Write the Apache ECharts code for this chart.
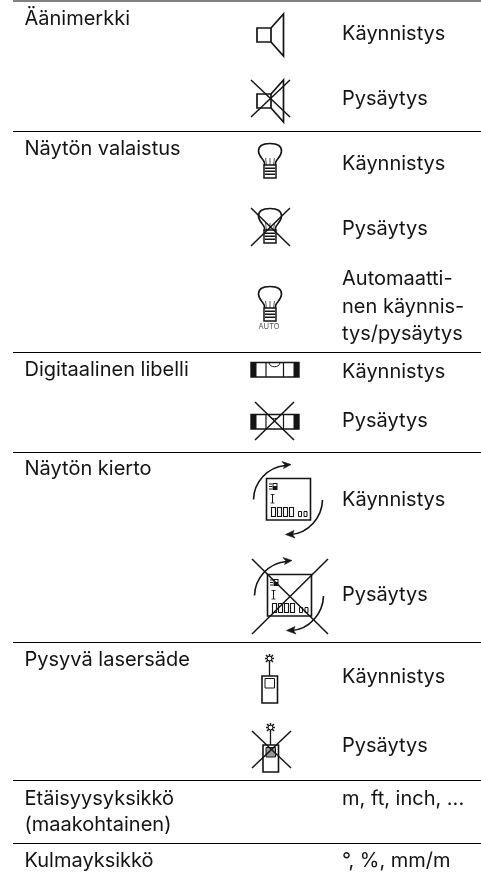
<!DOCTYPE html>
<html>
<head>
<meta charset="utf-8">
<style>html,body{margin:0;padding:0;background:#fff}#main{width:481px;height:872px}</style>
<script src="https://cdn.jsdelivr.net/npm/echarts@6/dist/echarts.min.js"></script>
</head>
<body>
<div id="main"></div>
<script>
var featureLabels = ['Äänimerkki', 'Näytön valaistus', 'Digitaalinen libelli', 'Näytön kierto', 'Pysyvä lasersäde', 'Etäisyysyksikkö', '(maakohtainen)', 'Kulmayksikkö'];
var actionLabels = ['Käynnistys', 'Pysäytys', 'Käynnistys', 'Pysäytys', 'Automaatti-', 'nen käynnis-', 'tys/pysäytys', 'Käynnistys', 'Pysäytys', 'Käynnistys', 'Pysäytys', 'Käynnistys', 'Pysäytys', 'm, ft, inch, ...', '°, %, mm/m'];

// layout, all in page pixels
var featureBase = [25, 155, 376, 475, 666, 805, 831, 867];
var actionBase = [40, 105, 170, 235, 285, 313, 340, 378, 427, 506, 601, 683, 752, 805, 867];
var ruleY = [131, 352, 452, 642, 780, 843];
var iconSpots = [
    ['speaker', 0, 0, false], ['speaker', 0, 66, true],
    ['bulb', 0, 0, false], ['bulb', 0, 65, true], ['bulbAuto', 0, 143, false],
    ['level', 0, 0, false], ['level', 0, 52, true],
    ['rotate', 0, 0, false], ['rotate', 1, 96, true],
    ['laser', 0, 0, false], ['laser', 1, 69, true]
];
var crosses = {
    speaker: [251, 80, 290, 117, -66],
    bulb: [251, 208, 290, 246, -65],
    level: [255, 402, 294, 440, -52],
    rotate: [251, 559, 327, 634, -96],
    laser: [251, 731, 290, 768, -69]
};

var ink = '#141414';
var font = 'Inter, "Noto Sans", sans-serif';

function line(x1, y1, x2, y2, w) {
    return {type: 'line', silent: true, shape: {x1: x1, y1: y1, x2: x2, y2: y2}, style: {stroke: ink, lineWidth: w || 1.3, fill: null}};
}
function box(x, y, w, h, lw, fill) {
    return {type: 'rect', silent: true, shape: {x: x, y: y, width: w, height: h}, style: {stroke: lw ? ink : null, lineWidth: lw || 0, fill: fill || null}};
}

// svg paths are registered once as shapes so renderItem can use them
var shapeNames = {};
var shapeCount = 0;
function svg(d, dy, w, fill) {
    if (!shapeNames[d]) {
        shapeCount++;
        shapeNames[d] = 'iconPath' + shapeCount;
        echarts.graphic.registerShape(shapeNames[d], echarts.graphic.extendPath(d, {}));
    }
    return {type: shapeNames[d], silent: true, y: dy, style: {stroke: ink, lineWidth: w, fill: fill || null}};
}

function bulbParts(dy) {
    var o = [];
    o.push(svg('M264.5,165.5 L264.5,163 C264,159 258.5,157 258.5,151 C258.5,146 263,143.5 270,143.5 C277,143.5 281.5,146 281.5,151 C281.5,157 276,159 275.5,163 L275.5,165.5', dy, 1.6));
    o.push(svg('M266.5,165 L265.5,158 M273.5,165 L274.5,158 M270,165 L270,158', dy, 0.7));
    o.push(box(264, 165 + dy, 12, 13, 1.5, '#fff'));
    o.push(box(265, 167.5 + dy, 10, 1.5, 0, ink));
    o.push(box(265, 170.5 + dy, 10, 1.5, 0, ink));
    o.push(box(265, 173.5 + dy, 10, 1.5, 0, ink));
    return o;
}
function iconParts(name, dy) {
    var o = [];
    if (name === 'speaker') {
        o.push(box(257, 28 + dy, 14, 14, 1.7));
        o.push(svg('M271,28 L283.5,14 L283.5,56 L271,42', dy, 1.7));
    } else if (name === 'bulb') {
        o = bulbParts(dy);
    } else if (name === 'bulbAuto') {
        o = bulbParts(dy);
        o.push({type: 'text', silent: true, style: {text: 'AUTO', x: 269, y: 326.5, fill: '#555', font: '7.5px ' + font, align: 'center', verticalAlign: 'middle'}});
    } else if (name === 'level') {
        o.push(box(251, 362.5 + dy, 48, 14.5, 1.4, '#fff'));
        o.push(box(251, 362.5 + dy, 5.5, 14.5, 0, ink));
        o.push(box(293.5, 362.5 + dy, 5.5, 14.5, 0, ink));
        o.push(line(266, 363 + dy, 266, 377 + dy, 1.2));
        o.push(line(283.5, 363 + dy, 283.5, 377 + dy, 1.2));
        o.push(svg('M269,363 C270,368 279,368 280,363', dy, 1));
    } else if (name === 'rotate') {
        o.push(box(266.5, 478.5 + dy, 44, 41.5, 1.6, '#fff'));
        o.push(box(269, 483.5 + dy, 3, 1, 0, ink));
        o.push(box(269, 486 + dy, 3, 1, 0, ink));
        o.push(box(269, 488.5 + dy, 3, 1, 0, ink));
        o.push(box(272.5, 483 + dy, 5, 7, 0, ink));
        o.push(box(273.5, 484 + dy, 3, 2, 0, '#fff'));
        o.push(line(272.5, 494 + dy, 272.5, 503 + dy, 1));
        o.push(line(270.5, 494.5 + dy, 274.5, 494.5 + dy, 0.8));
        o.push(line(270.5, 503 + dy, 274.5, 503 + dy, 0.8));
        var bars = [271.5, 277.5, 283.5, 289.5];
        for (var i = 0; i < bars.length; i++) {
            o.push(box(bars[i], 507.5 + dy, 4, 9, 1.1));
        }
        o.push(box(298.5, 511.5 + dy, 3, 5, 1));
        o.push(box(304, 511.5 + dy, 3, 5, 1));
        o.push(svg('M253.5,499.5 C254,482 267,467.5 285,465.5', dy, 1.6));
        o.push(svg('M282,461.5 L291,464.5 L283.5,468.5 L285,465 Z', dy, 0.6, ink));
        o.push(svg('M322.5,500 C322,518 308,533 291,534.5', dy, 1.6));
        o.push(svg('M285.5,534.5 L294,530.5 L292.5,534.5 L295,538 Z', dy, 0.6, ink));
    } else if (name === 'laser') {
        o.push(svg('M266,655 L273,662 M273,655 L266,662 M265,658.5 L274,658.5 M269.5,654 L269.5,663', dy, 1.5));
        o.push({type: 'circle', silent: true, shape: {cx: 269.5, cy: 658.5 + dy, r: 2.3}, style: {stroke: ink, lineWidth: 1, fill: '#fff'}});
        o.push(line(269.5, 663 + dy, 269.5, 676 + dy, 1.3));
        o.push(box(262, 676 + dy, 15.5, 27, 1.6, '#fff'));
        o.push(box(265, 678.5 + dy, 9.5, 9.5, 1, dy ? '#999' : '#fff'));
    }
    return o;
}

var chart = echarts.init(document.getElementById('main'), null, {renderer: 'canvas'});

var textItems = [];
for (var i = 0; i < featureLabels.length; i++) {
    textItems.push([24.5, featureBase[i], featureLabels[i]]);
}
for (var j = 0; j < actionLabels.length; j++) {
    textItems.push([342, actionBase[j], actionLabels[j]]);
}

option = {
    animation: false,
    backgroundColor: '#fff',
    grid: {left: 0, right: 0, top: 0, bottom: 0},
    xAxis: {type: 'value', min: 0, max: 481, show: false},
    yAxis: {type: 'value', min: 0, max: 872, inverse: true, show: false},
    tooltip: {show: false},
    series: [
        {
            // table rules
            type: 'custom',
            coordinateSystem: 'cartesian2d',
            clip: false,
            silent: true,
            data: [0].concat(ruleY),
            encode: {x: 0, y: 0},
            renderItem: function (params, api) {
                var y = api.value(0);
                var p0 = api.coord([13, y]);
                var p1 = api.coord([481, y]);
                if (y === 0) {
                    return {type: 'rect', shape: {x: p0[0], y: 0, width: p1[0] - p0[0], height: 2}, style: {fill: '#808080'}};
                }
                return {type: 'rect', shape: {x: p0[0], y: p0[1], width: p1[0] - p0[0], height: 1}, style: {fill: '#000'}};
            }
        },
        {
            // cell text
            type: 'custom',
            coordinateSystem: 'cartesian2d',
            clip: false,
            silent: true,
            data: textItems,
            encode: {x: 0, y: 1},
            renderItem: function (params, api) {
                var p = api.coord([api.value(0), api.value(1)]);
                return {type: 'text', style: {text: textItems[params.dataIndex][2], x: p[0], y: p[1] - 6, fill: ink, font: '20px ' + font, align: 'left', verticalAlign: 'middle'}};
            }
        },
        {
            // icons
            type: 'custom',
            coordinateSystem: 'cartesian2d',
            clip: false,
            silent: true,
            data: iconSpots.map(function (s, i) { return [i]; }),
            encode: {x: 0},
            renderItem: function (params, api) {
                var spot = iconSpots[params.dataIndex];
                var parts = iconParts(spot[0], spot[2]);
                if (spot[3]) {
                    var c = crosses[spot[0]];
                    var off = c[4] + spot[2];
                    parts.push(line(c[0], c[1] + off, c[2], c[3] + off, 1.5));
                    parts.push(line(c[2], c[1] + off, c[0], c[3] + off, 1.5));
                }
                return {type: 'group', x: spot[1], children: parts};
            }
        }
    ]
};
chart.setOption(option);
</script>
</body>
</html>
